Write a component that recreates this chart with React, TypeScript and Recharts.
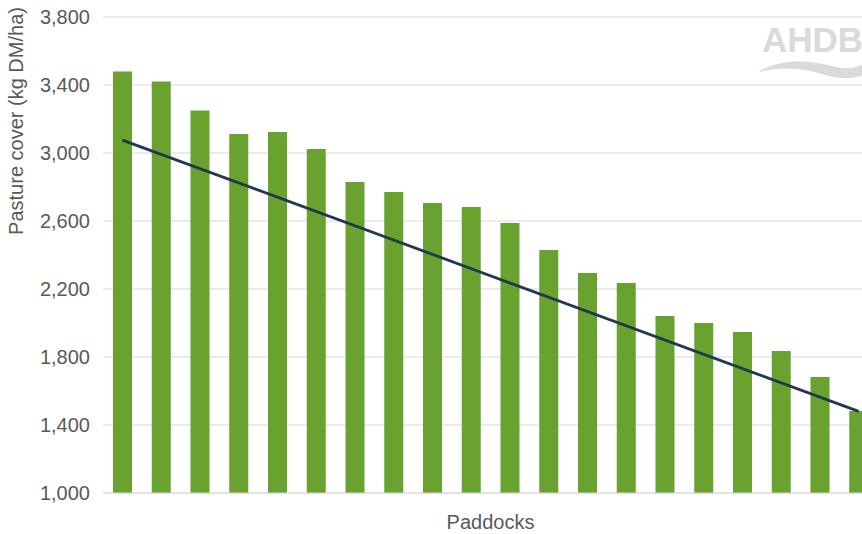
import React from 'react';
import {
  ComposedChart, Bar, Line, XAxis, YAxis, CartesianGrid,
} from 'recharts';

// paddock index (no labels shown on the axis)
const paddocks = ['P1', 'P2', 'P3', 'P4', 'P5', 'P6', 'P7', 'P8', 'P9', 'P10',
  'P11', 'P12', 'P13', 'P14', 'P15', 'P16', 'P17', 'P18', 'P19', 'P20'];

// pasture cover, kg DM/ha
const cover = [3480, 3420, 3250, 3112, 3124, 3024, 2829, 2771, 2706, 2682,
  2588, 2430, 2294, 2235, 2041, 2000, 1947, 1835, 1682, 1482];

// straight wedge line: only its two ends are given
const wedge = [3076, null, null, null, null, null, null, null, null, null,
  null, null, null, null, null, null, null, null, null, 1480];

const yTicks = [1000, 1400, 1800, 2200, 2600, 3000, 3400, 3800];

const data = paddocks.map((p, i) => ({ paddock: p, cover: cover[i], wedge: wedge[i] }));

const FONT = '"Liberation Sans", Arial, Helvetica, sans-serif';
const GREY = '#595959';

const fmt = (v: number) => v.toLocaleString('en-GB');

function Logo() {
  return (
    <svg
      width={110}
      height={60}
      style={{ position: 'absolute', left: 752, top: 20 }}
    >
      <text x={10} y={32} fontFamily={FONT} fontWeight={600} fontSize={35} fill="#dadada">
        AHDB
      </text>
      <path
        d="M6 52 C28 38, 58 40, 80 46 C95 50, 105 48, 115 42 L115 54 C100 60, 86 59, 70 54 C52 48, 30 46, 6 52 Z"
        fill="#dadada"
      />
    </svg>
  );
}

export default function App() {
  return (
    <div
      style={{
        position: 'absolute', left: 0, top: 0, width: 862, height: 534,
        overflow: 'hidden', background: '#fff', fontFamily: FONT,
      }}
    >
      <ComposedChart
        width={880}
        height={534}
        data={data}
        margin={{ top: 17, right: 2, left: 0, bottom: 0 }}
      >
        <CartesianGrid vertical={false} stroke="#d9d9d9" />
        <XAxis
          dataKey="paddock"
          height={41}
          tick={false}
          tickLine={false}
          axisLine={{ stroke: '#d9d9d9' }}
          label={{
            value: 'Paddocks', position: 'insideBottom', offset: 5,
            fill: GREY, fontSize: 20, fontFamily: FONT,
          }}
        />
        <YAxis
          width={103}
          domain={[1000, 3800]}
          ticks={yTicks}
          tickFormatter={fmt}
          tickLine={false}
          axisLine={false}
          tickSize={6}
          tickMargin={7}
          tick={{ fill: GREY, fontSize: 20, fontFamily: FONT }}
          label={{
            content: () => (
              <text
                x={16}
                y={121}
                transform="rotate(-90,16,121)"
                textAnchor="middle"
                dominantBaseline="central"
                fill={GREY}
                fontSize={20}
                fontFamily={FONT}
              >
                Pasture cover (kg DM/ha)
              </text>
            ),
          }}
        />
        <Bar dataKey="cover" fill="#6aa22f" barSize={19} isAnimationActive={false} />
        <Line
          dataKey="wedge"
          stroke="#1f3a4c"
          strokeWidth={2.8}
          dot={false}
          connectNulls
          isAnimationActive={false}
        />
      </ComposedChart>
      <Logo />
    </div>
  );
}
